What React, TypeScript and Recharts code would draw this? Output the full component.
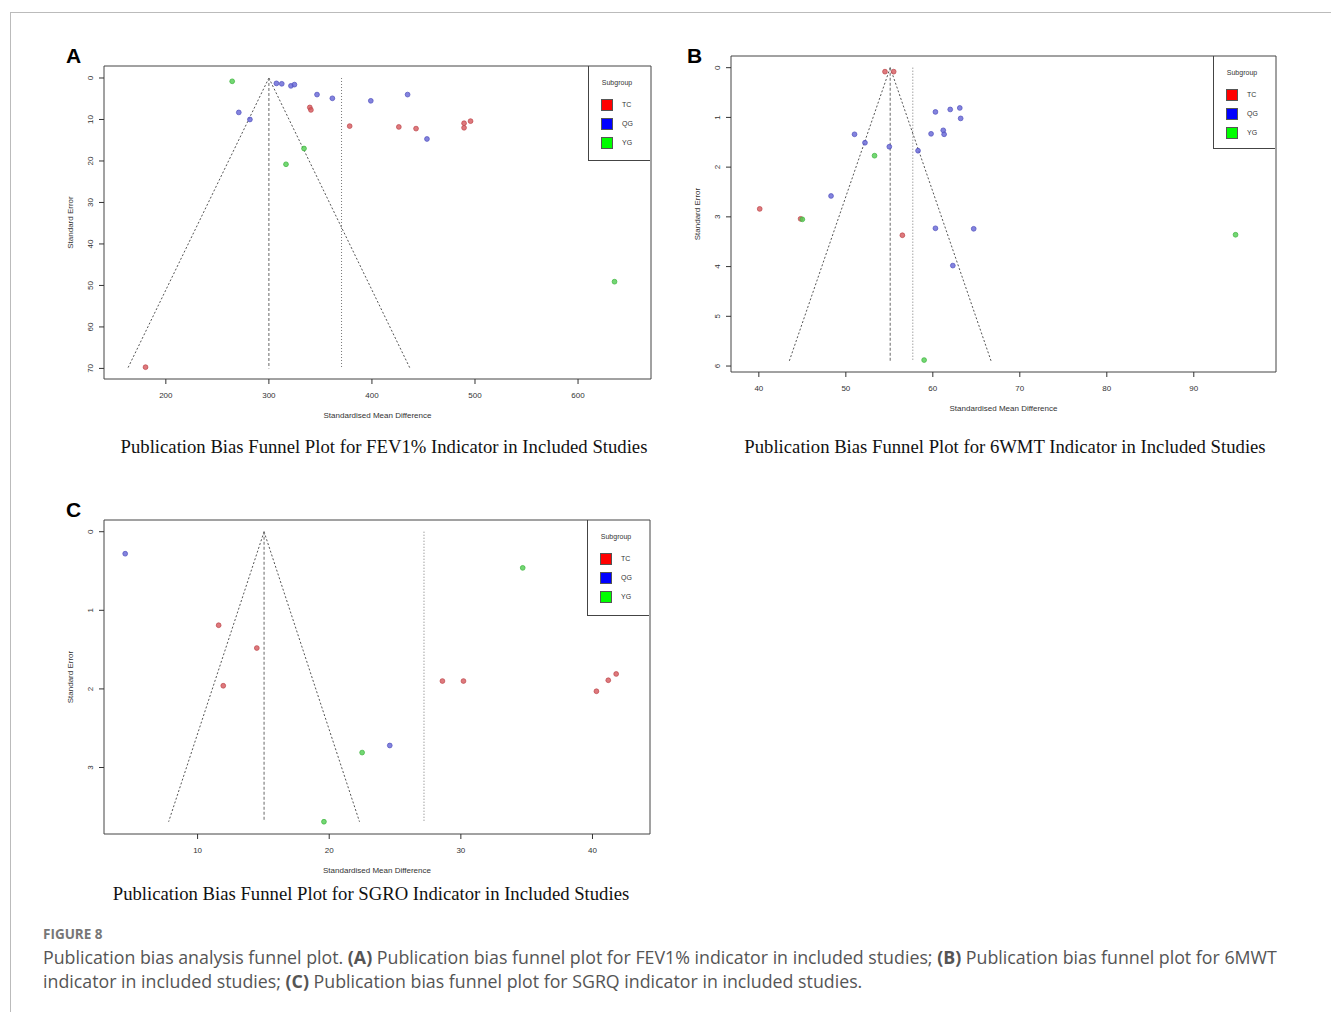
import { ScatterChart, Scatter, XAxis, YAxis, ReferenceLine, ReferenceArea } from "recharts";

// values: smd = standardised mean difference, se = standard error
const fevTC = [
  { smd: 339.7, se: 7.1 }, { smd: 340.8, se: 7.7 }, { smd: 378.4, se: 11.6 },
  { smd: 426.1, se: 11.8 }, { smd: 442.8, se: 12.2 }, { smd: 489.4, se: 10.9 },
  { smd: 489.4, se: 12.0 }, { smd: 495.7, se: 10.4 }, { smd: 180.3, se: 69.7 },
];
const fevQG = [
  { smd: 307.3, se: 1.3 }, { smd: 312.5, se: 1.4 }, { smd: 321.4, se: 1.9 },
  { smd: 324.8, se: 1.6 }, { smd: 346.7, se: 4.0 }, { smd: 361.6, se: 4.9 },
  { smd: 398.9, se: 5.5 }, { smd: 434.6, se: 4.0 }, { smd: 270.8, se: 8.3 },
  { smd: 281.6, se: 10.0 }, { smd: 453.4, se: 14.7 },
];
const fevYG = [
  { smd: 264.4, se: 0.8 }, { smd: 334.1, se: 17.0 }, { smd: 316.6, se: 20.8 },
  { smd: 635.4, se: 49.1 },
];

const mwtTC = [
  { smd: 54.5, se: 0.08 }, { smd: 55.5, se: 0.08 }, { smd: 40.1, se: 2.84 },
  { smd: 44.8, se: 3.04 }, { smd: 56.5, se: 3.37 },
];
const mwtQG = [
  { smd: 60.3, se: 0.89 }, { smd: 62.0, se: 0.84 }, { smd: 63.1, se: 0.81 },
  { smd: 63.2, se: 1.02 }, { smd: 61.2, se: 1.26 }, { smd: 61.3, se: 1.34 },
  { smd: 59.8, se: 1.33 }, { smd: 51.0, se: 1.34 }, { smd: 52.2, se: 1.51 },
  { smd: 55.0, se: 1.59 }, { smd: 58.3, se: 1.67 }, { smd: 48.3, se: 2.58 },
  { smd: 60.3, se: 3.23 }, { smd: 64.7, se: 3.24 }, { smd: 62.3, se: 3.98 },
];
const mwtYG = [
  { smd: 53.3, se: 1.77 }, { smd: 45.0, se: 3.05 }, { smd: 94.8, se: 3.36 },
  { smd: 59.0, se: 5.88 },
];

const sgrTC = [
  { smd: 11.6, se: 1.19 }, { smd: 14.5, se: 1.48 }, { smd: 11.95, se: 1.96 },
  { smd: 28.6, se: 1.9 }, { smd: 30.2, se: 1.9 }, { smd: 40.3, se: 2.03 },
  { smd: 41.2, se: 1.89 }, { smd: 41.8, se: 1.81 },
];
const sgrQG = [{ smd: 4.5, se: 0.28 }, { smd: 24.6, se: 2.72 }];
const sgrYG = [{ smd: 34.7, se: 0.46 }, { smd: 22.5, se: 2.81 }, { smd: 19.6, se: 3.69 }];

// funnel: [left at max se, centre, right at max se], max se, pooled estimate
const fevFunnel = [163, 300, 437];
const fevMaxSe = 70;
const fevPooled = 370.5;
const mwtFunnel = [43.5, 55.1, 66.7];
const mwtMaxSe = 5.9;
const mwtPooled = 57.7;
const sgrFunnel = [7.8, 15.05, 22.3];
const sgrMaxSe = 3.69;
const sgrPooled = 27.2;

const fevXTicks = [200, 300, 400, 500, 600];
const fevYTicks = [0, 10, 20, 30, 40, 50, 60, 70];
const mwtXTicks = [40, 50, 60, 70, 80, 90];
const mwtYTicks = [0, 1, 2, 3, 4, 5, 6];
const sgrXTicks = [10, 20, 30, 40];
const sgrYTicks = [0, 1, 2, 3];

const subgroups = ["TC", "QG", "YG"];
const keyColors = ["#ff0000", "#0000ff", "#00ff00"];
const dotFill = ["rgba(214,88,92,0.8)", "rgba(100,100,214,0.8)", "rgba(80,205,80,0.8)"];
const dotStroke = ["rgba(190,70,74,0.9)", "rgba(80,80,190,0.9)", "rgba(60,180,60,0.9)"];

const AXIS_FONT = "'Liberation Sans', Arial, sans-serif";
const INK = "#333";

const makeDot = (i: number) => (props: any) => (
  <circle cx={props.cx} cy={props.cy} r={2.4} fill={dotFill[i]} stroke={dotStroke[i]} strokeWidth={0.8} />
);

const YTick = (props: any) => {
  const { x, y, payload } = props;
  const tx = x - 4;
  return (
    <text
      x={tx}
      y={y}
      transform={`rotate(-90 ${tx} ${y})`}
      textAnchor="middle"
      fontSize={8}
      fontFamily={AXIS_FONT}
      fill={INK}
    >
      {payload.value}
    </text>
  );
};

interface PanelProps {
  box: { left: number; top: number; right: number; bottom: number };
  xDomain: [number, number];
  yDomain: [number, number];
  xTicks: number[];
  yTicks: number[];
  funnel: number[];
  maxSe: number;
  pooled: number;
  series: Array<Array<{ smd: number; se: number }>>;
  legendHeight: number;
}

function FunnelPanel({ box, xDomain, yDomain, xTicks, yTicks, funnel, maxSe, pooled, series, legendHeight }: PanelProps) {
  const wrapLeft = box.left - 44;
  const wrapTop = box.top - 16;
  const width = box.right - wrapLeft + 19;
  const height = box.bottom - wrapTop + 61;
  return (
    <div style={{ position: "absolute", left: wrapLeft, top: wrapTop, width, height }}>
      <ScatterChart width={width} height={height} margin={{ top: 16, right: 19, bottom: 0, left: 0 }}>
        <XAxis
          type="number"
          dataKey="smd"
          domain={xDomain}
          ticks={xTicks}
          allowDataOverflow
          axisLine={false}
          tickSize={5}
          tickMargin={8}
          height={61}
          stroke={INK}
          tick={{ fontSize: 8, fill: INK, fontFamily: AXIS_FONT }}
          label={{
            value: "Standardised Mean Difference",
            position: "insideBottom",
            offset: 22,
            style: { fontSize: 8, fill: INK, fontFamily: AXIS_FONT },
          }}
        />
        <YAxis
          type="number"
          dataKey="se"
          domain={yDomain}
          ticks={yTicks}
          reversed
          allowDataOverflow
          axisLine={false}
          tickSize={5}
          tickMargin={2}
          width={44}
          stroke={INK}
          tick={<YTick />}
          label={{
            value: "Standard Error",
            angle: -90,
            position: "insideLeft",
            offset: 10,
            style: { fontSize: 8, fill: INK, fontFamily: AXIS_FONT, textAnchor: "middle" },
          }}
        />
        <ReferenceArea
          x1={xDomain[0]}
          x2={xDomain[1]}
          y1={yDomain[0]}
          y2={yDomain[1]}
          fill="none"
          stroke="#444"
          strokeWidth={1}
          fillOpacity={0}
        />
        <ReferenceLine
          segment={[{ x: funnel[1], y: 0 }, { x: funnel[0], y: maxSe }]}
          stroke="#555"
          strokeDasharray="2 2"
        />
        <ReferenceLine
          segment={[{ x: funnel[1], y: 0 }, { x: funnel[2], y: maxSe }]}
          stroke="#555"
          strokeDasharray="2 2"
        />
        <ReferenceLine
          segment={[{ x: funnel[1], y: 0 }, { x: funnel[1], y: maxSe }]}
          stroke="#777"
          strokeWidth={1.1}
          strokeDasharray="3 2"
        />
        <ReferenceLine
          segment={[{ x: pooled, y: 0 }, { x: pooled, y: maxSe }]}
          stroke="#777"
          strokeDasharray="1 2"
        />
        {series.map((d, i) => (
          <Scatter key={subgroups[i]} name={subgroups[i]} data={d} shape={makeDot(i)} isAnimationActive={false} />
        ))}
      </ScatterChart>
      <div
        style={{
          position: "absolute",
          left: box.right - wrapLeft - 63,
          top: 16,
          width: 62,
          height: legendHeight,
          borderLeft: "1px solid #444",
          borderBottom: "1px solid #444",
          fontFamily: AXIS_FONT,
          fontSize: 7,
          color: INK,
          boxSizing: "border-box",
        }}
      >
        <div style={{ position: "absolute", left: 0, width: 56, top: 13, textAlign: "center" }}>Subgroup</div>
        {subgroups.map((s, i) => (
          <div key={s} style={{ position: "absolute", left: 12, top: 33 + i * 19, height: 11, display: "flex", alignItems: "center" }}>
            <span style={{ display: "inline-block", width: 10, height: 10, background: keyColors[i], border: "0.5px solid #555" }} />
            <span style={{ marginLeft: 9 }}>{s}</span>
          </div>
        ))}
      </div>
    </div>
  );
}

const titleStyle: React.CSSProperties = {
  position: "absolute",
  fontFamily: "'Liberation Serif', 'Times New Roman', serif",
  fontSize: 18.7,
  color: "#111",
  whiteSpace: "nowrap",
  transform: "translateX(-50%)",
};

const letterStyle: React.CSSProperties = {
  position: "absolute",
  fontFamily: AXIS_FONT,
  fontWeight: "bold",
  fontSize: 21,
  color: "#000",
};

export default function App() {
  return (
    <div style={{ position: "absolute", left: 0, top: 0, width: 1331, height: 1012, background: "#fff", overflow: "hidden" }}>
      <div style={{ position: "absolute", left: 10, top: 12, right: 0, bottom: 0, borderTop: "1px solid #bbb", borderLeft: "1px solid #bbb" }} />

      <div style={{ ...letterStyle, left: 66, top: 44 }}>A</div>
      <FunnelPanel
        box={{ left: 104, top: 66, right: 651, bottom: 379 }}
        xDomain={[140, 670.8]}
        yDomain={[-2.89, 72.55]}
        xTicks={fevXTicks}
        yTicks={fevYTicks}
        funnel={fevFunnel}
        maxSe={fevMaxSe}
        pooled={fevPooled}
        series={[fevTC, fevQG, fevYG]}
        legendHeight={95}
      />
      <div style={{ ...titleStyle, left: 384, top: 436 }}>
        Publication Bias Funnel Plot for FEV1% Indicator in Included Studies
      </div>

      <div style={{ ...letterStyle, left: 687, top: 44 }}>B</div>
      <FunnelPanel
        box={{ left: 731, top: 56, right: 1276, bottom: 372 }}
        xDomain={[36.8, 99.45]}
        yDomain={[-0.235, 6.12]}
        xTicks={mwtXTicks}
        yTicks={mwtYTicks}
        funnel={mwtFunnel}
        maxSe={mwtMaxSe}
        pooled={mwtPooled}
        series={[mwtTC, mwtQG, mwtYG]}
        legendHeight={93}
      />
      <div style={{ ...titleStyle, left: 1005, top: 436 }}>
        Publication Bias Funnel Plot for 6WMT Indicator in Included Studies
      </div>

      <div style={{ ...letterStyle, left: 66, top: 498 }}>C</div>
      <FunnelPanel
        box={{ left: 104, top: 520, right: 650, bottom: 834 }}
        xDomain={[2.89, 44.37]}
        yDomain={[-0.149, 3.846]}
        xTicks={sgrXTicks}
        yTicks={sgrYTicks}
        funnel={sgrFunnel}
        maxSe={sgrMaxSe}
        pooled={sgrPooled}
        series={[sgrTC, sgrQG, sgrYG]}
        legendHeight={96}
      />
      <div style={{ ...titleStyle, left: 371, top: 883 }}>
        Publication Bias Funnel Plot for SGRO Indicator in Included Studies
      </div>

      <div style={{ position: "absolute", left: 43, top: 925, fontFamily: "'Open Sans', sans-serif", fontSize: 13.5, fontWeight: 700, color: "#777" }}>
        FIGURE 8
      </div>
      <div
        style={{
          position: "absolute",
          left: 43,
          top: 945,
          width: 1270,
          fontFamily: "'Open Sans', sans-serif",
          fontSize: 17.8,
          lineHeight: "24px",
          color: "#555",
          whiteSpace: "nowrap",
        }}
      >
        Publication bias analysis funnel plot. <b>(A)</b> Publication bias funnel plot for FEV1% indicator in included studies; <b>(B)</b> Publication bias funnel plot for 6MWT
        <br />
        indicator in included studies; <b>(C)</b> Publication bias funnel plot for SGRQ indicator in included studies.
      </div>
    </div>
  );
}
